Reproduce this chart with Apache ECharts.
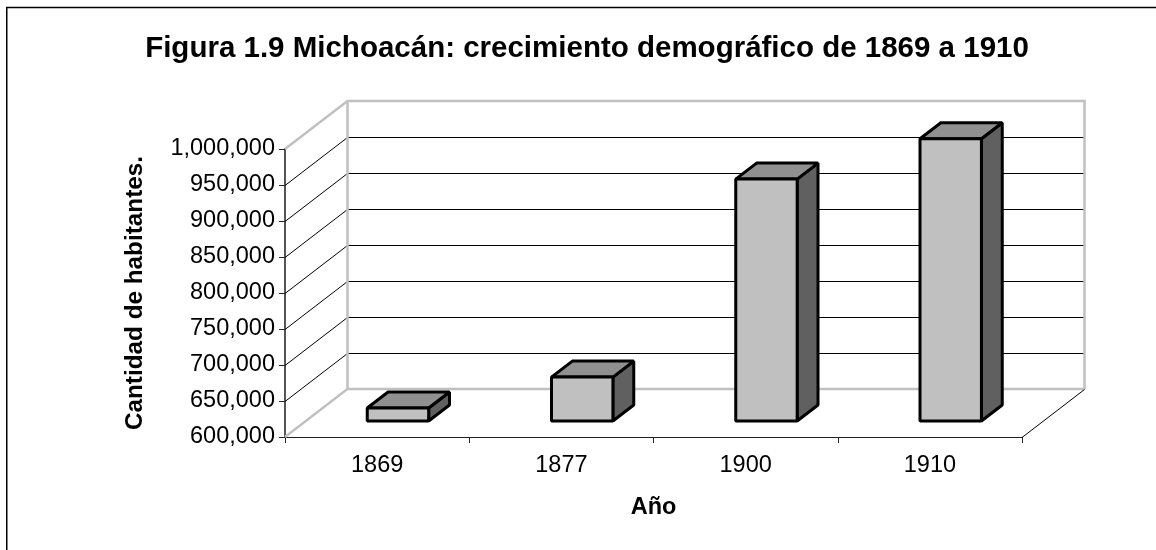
<!DOCTYPE html>
<html><head><meta charset="utf-8">
<style>html,body{margin:0;padding:0;background:#fff}#c{width:1156px;height:550px}</style>
<script src="https://cdn.jsdelivr.net/npm/echarts@6/dist/echarts.min.js"></script>
</head><body><div id="c"></div>
<script>
var categories = ['1869','1877','1900','1910'];
var habitantes = [618000, 661000, 936000, 992000];
var titleText = 'Figura 1.9 Michoacán: crecimiento demográfico de 1869 a 1910';
var yAxisName = 'Cantidad de habitantes.';
var xAxisName = 'Año';
var yMin = 600000, yMax = 1000000, yStep = 50000;
var gridValues = [650000,700000,750000,800000,850000,900000,950000];

var DX = 62.5, DY = -48;
var FONT = '"Liberation Sans", Arial, sans-serif';
var chart = echarts.init(document.getElementById('c'), null, {renderer:'canvas'});

function wallItem(params, api) {
  var cs = params.coordSys;
  var x0 = cs.x, x1 = cs.x + cs.width;
  var y0 = api.coord([0, yMin])[1], y1 = api.coord([0, yMax])[1];
  var kids = [];
  gridValues.forEach(function (v) {
    var y = api.coord([0, v])[1] + 0.5;
    kids.push({type:'polyline', shape:{points:[[x0,y],[x0+DX,y+DY],[x1+DX,y+DY]]}, style:{fill:null, stroke:'#000', lineWidth:1}});
  });
  var g = {fill:null, stroke:'#c0c0c0', lineWidth:2.5};
  kids.push({type:'polyline', shape:{points:[[x0,y1],[x0+DX,y1+DY],[x1+DX,y1+DY],[x1+DX,y0+DY]]}, style:g});
  kids.push({type:'polyline', shape:{points:[[x0,y0],[x0+DX,y0+DY],[x0+DX,y1+DY]]}, style:g});
  kids.push({type:'line', shape:{x1:x0+DX,y1:y0+DY,x2:x1+DX,y2:y0+DY}, style:g});
  kids.push({type:'line', shape:{x1:x1,y1:y0+0.5,x2:x1+DX,y2:y0+DY+0.5}, style:{stroke:'#000', lineWidth:1}});
  return {type:'group', children:kids};
}

function barItem(params, api) {
  var slot = api.size([1,0])[0];
  var c = api.coord([api.value(0), api.value(1)]);
  var base = api.coord([api.value(0), yMin])[1];
  var w = slot / 3, fx = c[0] - w/2 + DX/3, fy = DY/3;
  var l = fx, r = fx + w, t = c[1] + fy, b = base + fy;
  var ox = DX/3, oy = DY/3;
  var line = {stroke:'#000', lineWidth:3, lineJoin:'bevel'};
  return {type:'group', children:[
    {type:'polygon', shape:{points:[[r,t],[r+ox,t+oy],[r+ox,b+oy],[r,b]]}, style:Object.assign({fill:'#606060'},line)},
    {type:'polygon', shape:{points:[[l,t],[l+ox,t+oy],[r+ox,t+oy],[r,t]]}, style:Object.assign({fill:'#909090'},line)},
    {type:'polygon', shape:{points:[[l,t],[r,t],[r,b],[l,b]]}, style:Object.assign({fill:'#c0c0c0'},line)}
  ]};
}

chart.setOption({
  animation:false,
  backgroundColor:'#fff',
  title:{text:titleText, left:582, top:29, textAlign:'center', textStyle:{fontFamily:FONT,fontWeight:'bold',fontSize:29.5,color:'#000'}},
  grid:{left:285,right:134,top:149,bottom:113,containLabel:false},
  xAxis:{type:'category',data:categories,boundaryGap:true,name:xAxisName,nameLocation:'middle',nameGap:59,
    nameTextStyle:{fontFamily:FONT,fontWeight:'bold',fontSize:23.5,color:'#000'},
    axisLine:{lineStyle:{color:'#222',width:1}},axisTick:{show:true,alignWithLabel:false,length:6,lineStyle:{color:'#222'}},
    axisLabel:{fontFamily:FONT,fontSize:23.5,color:'#000',margin:17},splitLine:{show:false}},
  yAxis:{type:'value',min:yMin,max:yMax,interval:yStep,name:yAxisName,nameLocation:'middle',nameGap:138,
    nameTextStyle:{fontFamily:FONT,fontWeight:'bold',fontSize:24.3,color:'#000'},
    axisLine:{show:true,lineStyle:{color:'#555',width:2}},axisTick:{show:true,length:6,lineStyle:{color:'#222'}},
    axisLabel:{fontFamily:FONT,fontSize:23.5,color:'#000',margin:10,padding:[2,0,0,0],formatter:function(v){return v.toLocaleString('en-US');}},
    splitLine:{show:false}},
  graphic:[
    {type:'polyline',silent:true,shape:{points:[[6.75,550],[6.75,7.5],[1156,7.5]]},style:{fill:null,stroke:'#000',lineWidth:1.5}}
  ],
  series:[
    {type:'custom',renderItem:wallItem,data:[[0,yMin]],z:1,silent:true,clip:false,encode:{x:0,y:1}},
    {type:'custom',renderItem:barItem,data:categories.map(function(c,i){return [i,habitantes[i]];}),z:3,clip:false,encode:{x:0,y:1}}
  ]
});
</script></body></html>
